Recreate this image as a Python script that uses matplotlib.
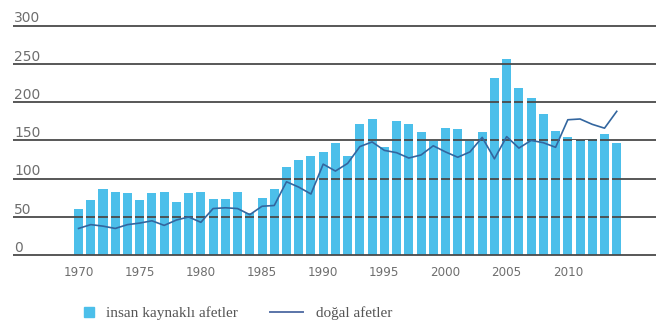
import numpy as np
import matplotlib
matplotlib.use('Agg')
import matplotlib.pyplot as plt
import matplotlib.transforms as mtransforms
from matplotlib.lines import Line2D

# yearly counts
years = np.arange(1970, 2015)
insan = [60, 72, 87, 83, 81, 72, 81, 83, 70, 81,
         83, 73, 73, 83, 55, 75, 87, 115, 124, 130,
         135, 146, 130, 172, 178, 141, 176, 172, 161, 149,
         166, 165, 149, 161, 231, 257, 219, 206, 184, 162,
         154, 150, 152, 159, 146]
dogal = [35, 40, 38, 35, 40, 42, 45, 39, 46, 50,
         43, 61, 62, 61, 53, 64, 65, 96, 89, 80,
         119, 110, 120, 142, 148, 137, 134, 127, 131, 143,
         135, 128, 135, 154, 126, 155, 140, 150, 147, 141,
         177, 178, 171, 166, 188]
y_ticks = [0, 50, 100, 150, 200, 250, 300]
x_ticks = [1970, 1975, 1980, 1985, 1990, 1995, 2000, 2005, 2010]

bar_color = '#4cbfea'
line_color = '#33669f'
text_gray = '#6e6e6e'
bar_w = 0.74

fig = plt.figure(figsize=(6.56, 3.25), dpi=100)
ax = fig.add_axes([13 / 656, 69 / 325, 643 / 656, 231 / 325])

ax.bar(years, insan, width=bar_w, color=bar_color, zorder=1)

# grid lines sit over the bars
for v in y_ticks:
    ax.axhline(v, color='#4a4a4a', lw=1.3, zorder=2)

# white gaps between neighbouring bars cut the grid lines
ins = np.array(insan)
ax.bar(years[:-1] + 0.5, np.minimum(ins[:-1], ins[1:]) - 1, bottom=1,
       width=1 - bar_w, color='white', zorder=2.5)

ax.plot(years, dogal, color=line_color, lw=1.2, zorder=3)

ax.set_xlim(1964.64, 2017.21)
ax.set_ylim(-1, 300.8)
for s in ax.spines.values():
    s.set_visible(False)
ax.set_yticks([])
ax.set_xticks(x_ticks)
ax.set_xticklabels([str(x) for x in x_ticks], fontsize=8.6, color=text_gray)
ax.tick_params(axis='x', length=0, pad=7)

trans = mtransforms.blended_transform_factory(ax.transAxes, ax.transData)
for v in y_ticks:
    ax.text(0.002, v + 4.3, str(v), transform=trans, ha='left', va='baseline',
            fontsize=10, color=text_gray)

serif = ['Liberation Serif', 'DejaVu Serif']
h1 = Line2D([], [], marker='s', linestyle='none', markersize=7.5,
            markerfacecolor=bar_color, markeredgecolor=bar_color)
h2 = Line2D([], [], color='#5a74a8', lw=1.4)
fig.legend([h1], ['insan kaynaklı afetler'], loc='center left',
           bbox_to_anchor=(68 / 656, 12 / 325), frameon=False,
           handlelength=0.9, handletextpad=0.7,
           prop={'family': serif, 'size': 11}, labelcolor='#555555')
fig.legend([h2], ['doğal afetler'], loc='center left',
           bbox_to_anchor=(256 / 656, 12 / 325), frameon=False,
           handlelength=2.2, handletextpad=0.8,
           prop={'family': serif, 'size': 11}, labelcolor='#555555')

fig.savefig('out.png', dpi=100)
